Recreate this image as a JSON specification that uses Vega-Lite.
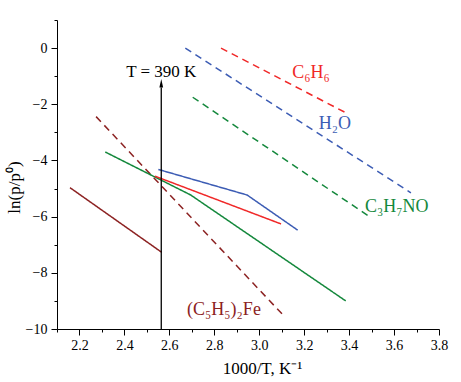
{
  "$schema": "https://vega.github.io/schema/vega-lite/v6.json",
  "width": 382,
  "height": 309,
  "autosize": {"type": "none"},
  "padding": {"left": 57, "top": 20, "right": 22, "bottom": 53},
  "background": "white",
  "config": {
    "view": {"stroke": null},
    "font": "Liberation Serif",
    "axis": {"grid": false, "domainColor": "black", "tickColor": "black", "labelColor": "black", "titleColor": "black", "labelFont": "Liberation Serif", "titleFont": "Liberation Serif", "labelFontSize": 14, "titleFontSize": 17, "titleFontWeight": "normal", "labelOverlap": false, "labelBound": false, "labelFlush": false}
  },
  "resolve": {"axis": {"x": "independent", "y": "independent"}},
  "datasets": {
    "lines": [
      {"line": "c6h6_d", "comp": "red", "dash": "dashed", "x": 2.83, "y": 0},
      {"line": "c6h6_d", "comp": "red", "dash": "dashed", "x": 3.385, "y": -2.3},
      {"line": "h2o_d", "comp": "blue", "dash": "dashed", "x": 2.671, "y": 0},
      {"line": "h2o_d", "comp": "blue", "dash": "dashed", "x": 3.675, "y": -5.15},
      {"line": "dmf_d", "comp": "green", "dash": "dashed", "x": 2.704, "y": -1.75},
      {"line": "dmf_d", "comp": "green", "dash": "dashed", "x": 3.496, "y": -6.03},
      {"line": "fe_d", "comp": "darkred", "dash": "dashed", "x": 2.274, "y": -2.44},
      {"line": "fe_d", "comp": "darkred", "dash": "dashed", "x": 3.107, "y": -9.51},
      {"line": "fe_s", "comp": "darkred", "dash": "solid", "x": 2.158, "y": -4.97},
      {"line": "fe_s", "comp": "darkred", "dash": "solid", "x": 2.566, "y": -7.27},
      {"line": "dmf_s", "comp": "green", "dash": "solid", "x": 2.315, "y": -3.7},
      {"line": "dmf_s", "comp": "green", "dash": "solid", "x": 2.695, "y": -5.23},
      {"line": "dmf_s", "comp": "green", "dash": "solid", "x": 3.385, "y": -9.0},
      {"line": "h2o_s", "comp": "blue", "dash": "solid", "x": 2.551, "y": -4.32},
      {"line": "h2o_s", "comp": "blue", "dash": "solid", "x": 2.946, "y": -5.23},
      {"line": "h2o_s", "comp": "blue", "dash": "solid", "x": 3.171, "y": -6.48},
      {"line": "c6h6_s", "comp": "red", "dash": "solid", "x": 2.536, "y": -4.56},
      {"line": "c6h6_s", "comp": "red", "dash": "solid", "x": 3.097, "y": -6.26}
    ],
    "labels": [
      {"comp": "red", "x": 3.23, "y": -0.88, "text": "C₆H₆"},
      {"comp": "blue", "x": 3.337, "y": -2.7, "text": "H₂O"},
      {"comp": "green", "x": 3.612, "y": -5.65, "text": "C₃H₇NO"},
      {"comp": "darkred", "x": 2.843, "y": -9.32, "text": "(C₅H₅)₂Fe"}
    ],
    "arrow": [
      {"x": 2.564, "y": -10, "y2": -1.4, "tip": -1.25, "ty": -0.85, "text": "T = 390 K"}
    ]
  },
  "layer": [
    {
      "data": {"name": "lines"},
      "mark": {"type": "line", "strokeWidth": 1.5},
      "encoding": {
        "x": {"field": "x", "type": "quantitative", "scale": {"domain": [2.1, 3.8], "nice": false, "zero": false},
          "axis": {"orient": "bottom", "title": "1000/T, K⁻¹", "values": [2.2, 2.4, 2.6, 2.8, 3.0, 3.2, 3.4, 3.6, 3.8],
            "format": ".1f", "tickSize": 6, "labelPadding": 3, "titlePadding": 8, "titleX": 205}},
        "y": {"field": "y", "type": "quantitative", "scale": {"domain": [-10, 1], "nice": false, "zero": false},
          "axis": {"orient": "left", "title": "ln(p/p⁰)", "values": [-10, -8, -6, -4, -2, 0],
            "format": "d", "tickSize": 6, "labelPadding": 4, "titlePadding": 2, "titleY": 167}},
        "detail": {"field": "line"},
        "order": {"field": "x", "type": "quantitative"},
        "color": {"field": "comp", "type": "nominal", "legend": null,
          "scale": {"domain": ["red", "blue", "green", "darkred"], "range": ["#f02828", "#3c5cb4", "#14883c", "#8c2222"]}},
        "strokeDash": {"field": "dash", "type": "nominal", "legend": null,
          "scale": {"domain": ["solid", "dashed"], "range": [[1, 0], [7, 5]]}}
      }
    },
    {
      "data": {"name": "labels"},
      "mark": {"type": "text", "fontSize": 18, "font": "Liberation Serif"},
      "encoding": {
        "x": {"field": "x", "type": "quantitative", "axis": null},
        "y": {"field": "y", "type": "quantitative", "axis": null},
        "text": {"field": "text"},
        "color": {"field": "comp", "type": "nominal", "legend": null}
      }
    },
    {
      "data": {"name": "arrow"},
      "mark": {"type": "rule", "color": "black", "strokeWidth": 1.3},
      "encoding": {
        "x": {"field": "x", "type": "quantitative",
          "axis": {"orient": "bottom", "title": null, "values": [2.1, 2.3, 2.5, 2.7, 2.9, 3.1, 3.3, 3.5, 3.7], "labels": false, "domain": false, "tickSize": 3}},
        "y": {"field": "y", "type": "quantitative",
          "axis": {"orient": "left", "title": null, "values": [-9, -7, -5, -3, -1, 1], "labels": false, "domain": false, "tickSize": 3}},
        "y2": {"field": "y2"}
      }
    },
    {
      "data": {"name": "arrow"},
      "mark": {"type": "point", "shape": "M0,-1L0.45,1L-0.45,1Z", "filled": true, "color": "black", "size": 70, "opacity": 1},
      "encoding": {
        "x": {"field": "x", "type": "quantitative", "axis": null},
        "y": {"field": "tip", "type": "quantitative", "axis": null}
      }
    },
    {
      "data": {"name": "arrow"},
      "mark": {"type": "text", "fontSize": 17, "font": "Liberation Serif", "color": "black"},
      "encoding": {
        "x": {"field": "x", "type": "quantitative", "axis": null},
        "y": {"field": "ty", "type": "quantitative", "axis": null},
        "text": {"field": "text"}
      }
    }
  ]
}
